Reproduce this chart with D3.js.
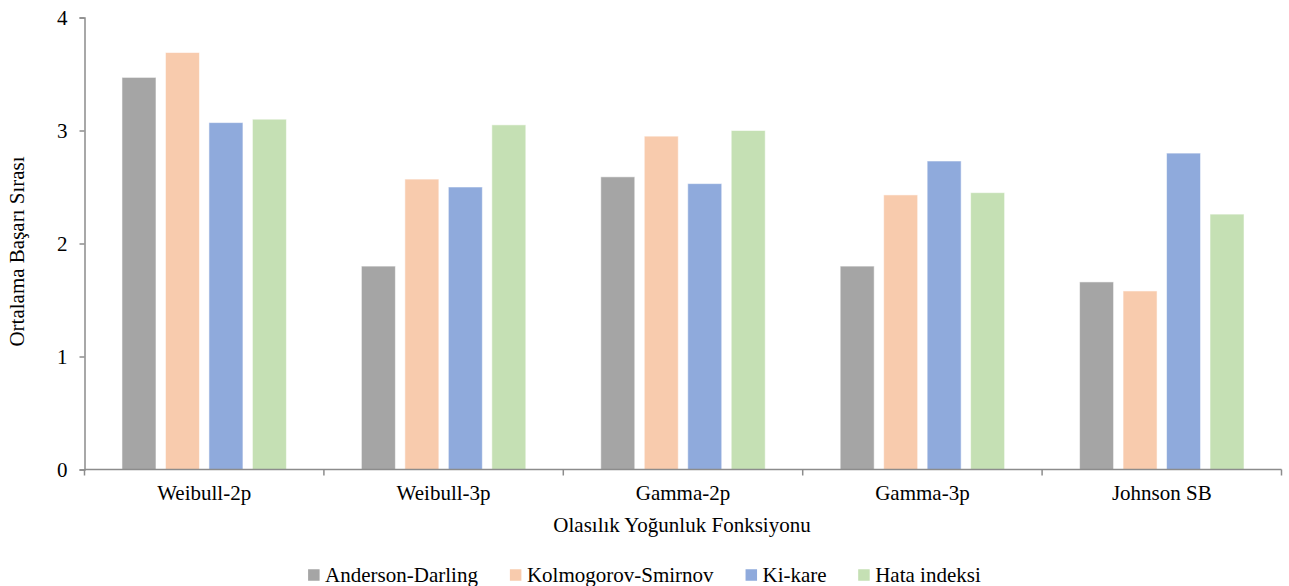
<!DOCTYPE html>
<html>
<head>
<meta charset="utf-8">
<script src="https://cdn.jsdelivr.net/npm/d3@7"></script>
<style>
  html, body { margin: 0; padding: 0; background: #fff; }
</style>
</head>
<body>
<svg id="chart" width="1289" height="586"></svg>
<script>
// Distributions compared on the x axis
const categories = ["Weibull-2p", "Weibull-3p", "Gamma-2p", "Gamma-3p", "Johnson SB"];
// Goodness-of-fit tests (one bar each per distribution)
const seriesNames = ["Anderson-Darling", "Kolmogorov-Smirnov", "Ki-kare", "Hata indeksi"];
const seriesColors = ["#a5a5a5", "#f8cbad", "#8faadc", "#c5e0b4"];
// Mean success rank per test, in category order
const andersonDarling   = [3.47, 1.80, 2.59, 1.80, 1.66];
const kolmogorovSmirnov = [3.69, 2.57, 2.95, 2.43, 1.58];
const kiKare            = [3.07, 2.50, 2.53, 2.73, 2.80];
const hataIndeksi       = [3.10, 3.05, 3.00, 2.45, 2.26];
const yTicks = [0, 1, 2, 3, 4];

const seriesValues = [andersonDarling, kolmogorovSmirnov, kiKare, hataIndeksi];
const fontFamily = "'Liberation Serif', 'Times New Roman', serif";
const fontSize = 21;

const svg = d3.select("#chart");
const margin = { left: 84.5, right: 7.5, top: 17.5, bottom: 116.5 };
const W = 1289, H = 586;

const x0 = d3.scaleBand()
  .domain(categories)
  .range([margin.left, W - margin.right])
  .padding(0);

const x1 = d3.scaleBand()
  .domain(seriesNames)
  .range([0, x0.bandwidth()])
  .paddingInner(0.218)
  .paddingOuter(0.862);

const y = d3.scaleLinear()
  .domain([0, 4])
  .range([H - margin.bottom, margin.top]);

// Bars
const groups = svg.append("g")
  .selectAll("g")
  .data(categories)
  .join("g")
  .attr("transform", d => `translate(${x0(d)},0)`);

groups.selectAll("rect")
  .data((c, ci) => seriesNames.map((s, si) => ({ s, si, v: seriesValues[si][ci] })))
  .join("rect")
  .attr("x", d => x1(d.s))
  .attr("y", d => y(d.v))
  .attr("width", x1.bandwidth())
  .attr("height", d => y(0) - y(d.v))
  .attr("fill", d => seriesColors[d.si])
  .attr("stroke", "#ffffff")
  .attr("stroke-opacity", 0.55)
  .attr("stroke-width", 1);

const axisColor = "#8c8c8c";

// Y axis
const yAxis = svg.append("g")
  .attr("transform", `translate(${margin.left},0)`)
  .call(d3.axisLeft(y).tickValues(yTicks).tickFormat(d3.format("d")).tickSize(5).tickPadding(12));
yAxis.select(".domain").attr("stroke", axisColor).attr("stroke-width", 1.5);
yAxis.selectAll(".tick line").attr("stroke", axisColor).attr("stroke-width", 1.5);
yAxis.selectAll(".tick text")
  .style("font-family", fontFamily)
  .style("font-size", fontSize + "px")
  .attr("fill", "#000");

// X axis: line with ticks at category boundaries
const xg = svg.append("g").attr("transform", `translate(0,${y(0)})`);
xg.append("line")
  .attr("x1", margin.left).attr("x2", W - margin.right)
  .attr("y1", 0).attr("y2", 0)
  .attr("stroke", axisColor).attr("stroke-width", 1.5);
const boundaries = categories.map(c => x0(c)).concat([x0(categories[categories.length - 1]) + x0.bandwidth()]);
xg.selectAll("line.bt")
  .data(boundaries)
  .join("line")
  .attr("class", "bt")
  .attr("x1", d => d).attr("x2", d => d)
  .attr("y1", 0).attr("y2", 6)
  .attr("stroke", axisColor).attr("stroke-width", 1.5);
xg.selectAll("text.cat")
  .data(categories)
  .join("text")
  .attr("class", "cat")
  .attr("x", d => x0(d) + x0.bandwidth() / 2)
  .attr("y", 30.5)
  .attr("text-anchor", "middle")
  .style("font-family", fontFamily)
  .style("font-size", fontSize + "px")
  .text(d => d);

// Axis titles
svg.append("text")
  .attr("x", (margin.left + W - margin.right) / 2 - 1)
  .attr("y", 532)
  .attr("text-anchor", "middle")
  .style("font-family", fontFamily)
  .style("font-size", fontSize + "px")
  .text("Olasılık Yoğunluk Fonksiyonu");

svg.append("text")
  .attr("transform", `translate(24,${(y(0) + y(4)) / 2 + 8}) rotate(-90)`)
  .attr("text-anchor", "middle")
  .style("font-family", fontFamily)
  .style("font-size", fontSize + "px")
  .text("Ortalama Başarı Sırası");

// Legend, centered under the chart
const legend = svg.append("g");
const sw = 11.5, gapText = 5.5, gapItem = 31.5;
const items = legend.selectAll("g")
  .data(seriesNames)
  .join("g");
items.append("rect")
  .attr("width", sw).attr("height", sw)
  .attr("y", -sw / 2)
  .attr("fill", (d, i) => seriesColors[i]);
items.append("text")
  .attr("x", sw + gapText)
  .attr("y", 7)
  .style("font-family", fontFamily)
  .style("font-size", fontSize + "px")
  .text(d => d);
let cx = 0;
items.each(function () {
  const w = this.getBBox().width;
  d3.select(this).attr("transform", `translate(${cx},0)`);
  cx += w + gapItem;
});
const totalW = cx - gapItem;
legend.attr("transform", `translate(${(W - totalW) / 2},575)`);
</script>
</body>
</html>
